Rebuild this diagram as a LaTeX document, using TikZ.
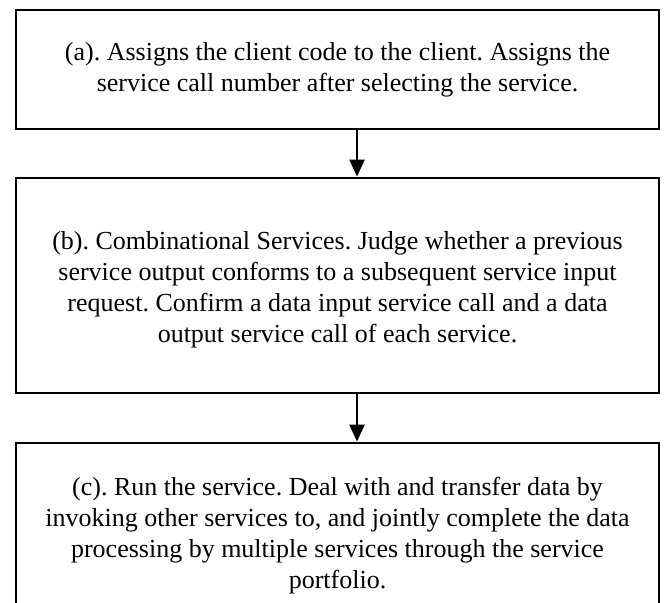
\documentclass[tikz,border=0pt]{standalone}
\usepackage{fontspec}
\setmainfont{Liberation Serif}
\usetikzlibrary{arrows.meta}
\frenchspacing

\begin{document}
\begin{tikzpicture}[x=1pt,y=-1pt,
	stepbox/.style={draw,line width=2.8pt,rectangle,minimum width=643pt,inner sep=0pt},
	steptext/.style={align=center,inner sep=0pt,font=\fontsize{26}{31}\selectfont},
	flow/.style={line width=2.4pt,-{Triangle[width=15pt,length=17pt]}}]
		\useasboundingbox (0,0) rectangle (665,603);
		\clip (0,0) rectangle (665,603);
		\coordinate (mid) at (357,0);

		\node[stepbox,minimum height=119pt] (boxa) at (337.5,69.5) {};
		\node[steptext] (texta) at (337.5,70)
		{(a). Assigns the client code to the client. Assigns the\\
		service call number after selecting the service.};

		\node[stepbox,minimum height=215pt] (boxb) at (337.5,285.5) {};
		\node[steptext] (textb) at (337.5,290)
		{(b). Combinational Services. Judge whether a previous\\
		service output conforms to a subsequent service input\\
		request. Confirm a data input service call and a data\\
		output service call of each service.};

		% bottom edge falls outside the picture
		\node[stepbox,minimum height=176pt] (boxc) at (337.5,531) {};
		\node[steptext] (textc) at (337.5,536)
		{(c). Run the service. Deal with and transfer data by\\
		invoking other services to, and jointly complete the data\\
		processing by multiple services through the service\\
		portfolio.};

		\draw[flow] (boxa.south -| mid) -- (boxb.north -| mid);
		\draw[flow] (boxb.south -| mid) -- (boxc.north -| mid);
\end{tikzpicture}
\end{document}
